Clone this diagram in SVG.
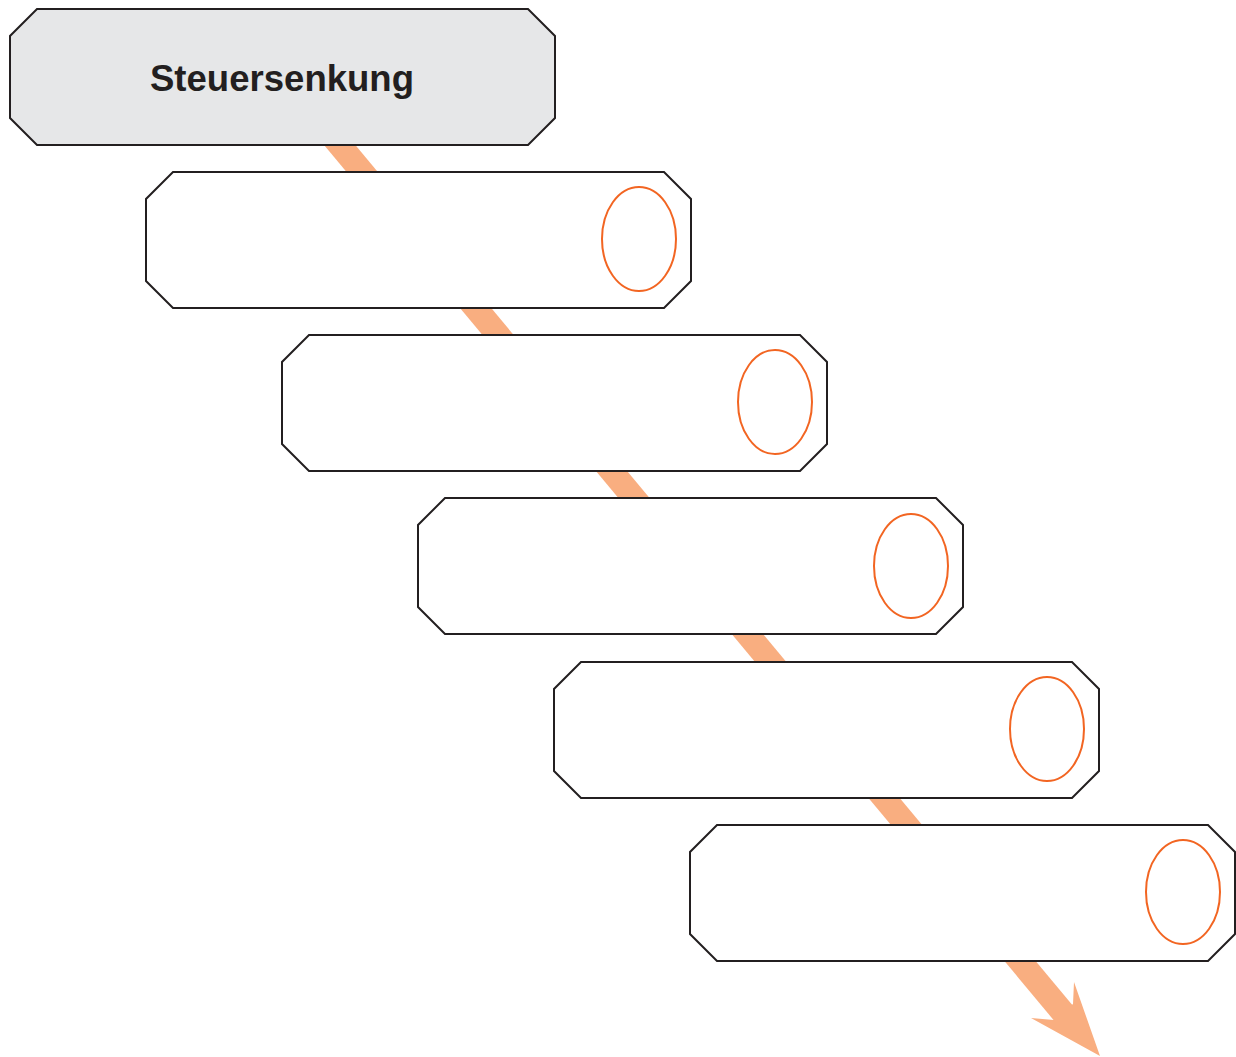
<svg xmlns="http://www.w3.org/2000/svg" width="1236" height="1057" viewBox="0 0 1236 1057">
<style>
.box{fill:#ffffff;stroke:#231f20;stroke-width:2;stroke-linejoin:miter}
.head{fill:#e6e7e8}
.mark{fill:none;stroke:#f26522;stroke-width:2}
.flow{stroke:#f9ae80;stroke-width:24;fill:none}
.title{font-family:"Liberation Sans",Arial,sans-serif;font-weight:bold;font-size:37px;fill:#231f20}
</style>
<rect width="1236" height="1057" fill="#ffffff"/>
<g id="connectors">
<line class="flow" x1="283" y1="77" x2="1065" y2="1015"/>
<polygon points="1100,1056 1074,982 1073,1004 1054,1020 1031,1018" fill="#f9ae80"/>
</g>
<g id="node-steuersenkung">
<polygon class="box head" points="37,9 528,9 555,36 555,118 528,145 37,145 10,118 10,36"/>
<text class="title" x="282" y="91" text-anchor="middle" textLength="264" lengthAdjust="spacingAndGlyphs">Steuersenkung</text>
</g>
<g id="node-1">
<polygon class="box" points="173,172 664,172 691,199 691,281 664,308 173,308 146,281 146,199"/>
<ellipse class="mark" cx="639" cy="239" rx="37" ry="52"/>
</g>
<g id="node-2">
<polygon class="box" points="309,335 800,335 827,362 827,444 800,471 309,471 282,444 282,362"/>
<ellipse class="mark" cx="775" cy="402" rx="37" ry="52"/>
</g>
<g id="node-3">
<polygon class="box" points="445,498 936,498 963,525 963,607 936,634 445,634 418,607 418,525"/>
<ellipse class="mark" cx="911" cy="566" rx="37" ry="52"/>
</g>
<g id="node-4">
<polygon class="box" points="581,662 1072,662 1099,689 1099,771 1072,798 581,798 554,771 554,689"/>
<ellipse class="mark" cx="1047" cy="729" rx="37" ry="52"/>
</g>
<g id="node-5">
<polygon class="box" points="717,825 1208,825 1235,852 1235,934 1208,961 717,961 690,934 690,852"/>
<ellipse class="mark" cx="1183" cy="892" rx="37" ry="52"/>
</g>
</svg>
